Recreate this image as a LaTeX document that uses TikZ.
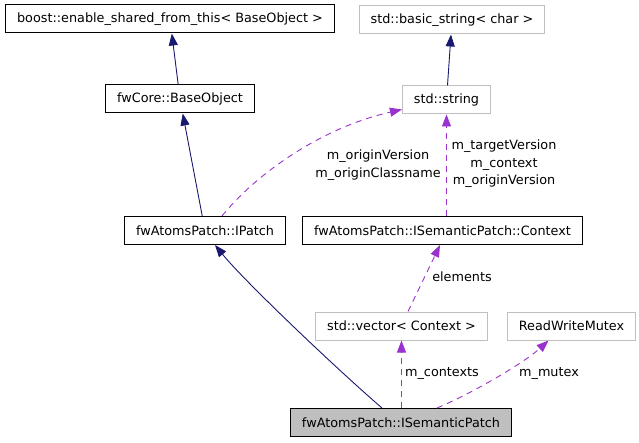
\documentclass[tikz,border=0pt]{standalone}
\usepackage{fontspec}
\setmainfont{DejaVu Sans}
\usepackage{tikz}
\usetikzlibrary{arrows.meta}
\definecolor{edgeblue}{HTML}{191970}
\definecolor{edgepurple}{HTML}{9A32CD}
\definecolor{boxgray}{HTML}{BFBFBF}
\tikzset{
  box/.style={draw=black, line width=1pt, fill=white, align=center, minimum height=28pt, inner xsep=11.5pt, inner ysep=0pt, font=\fontsize{12.8}{17.5}\selectfont},
  ext/.style={box, draw=boxgray},
  cur/.style={box, fill=boxgray},
  inh/.style={-{Triangle[length=12pt,width=9pt]}, edgeblue, line width=0.9pt},
  dep/.style={-{Triangle[length=12pt,width=9pt]}, edgepurple, line width=0.9pt, dash pattern=on 6pt off 5pt},
}
\begin{document}
\begin{tikzpicture}[x=1pt, y=-1pt, lbl/.style={align=center, inner sep=0pt, font=\fontsize{12.8}{17.5}\selectfont}]
\useasboundingbox (0,0) rectangle (639,443);
% classes
\node[box] (boost) at (170,19) {boost::enable\_shared\_from\_this< BaseObject >};
\node[box] (base) at (180,99) {fwCore::BaseObject};
\node[ext] (bstr) at (452,20) {std::basic\_string< char >};
\node[ext] (str) at (446.5,100) {std::string};
\node[box] (ipatch) at (205,230.5) {fwAtomsPatch::IPatch};
\node[box] (ctx) at (442.5,230.5) {fwAtomsPatch::ISemanticPatch::Context};
\node[ext] (vec) at (401.5,326) {std::vector< Context >};
\node[ext] (mutex) at (571.5,326) {ReadWriteMutex};
\node[cur] (isp) at (401,422.5) {fwAtomsPatch::ISemanticPatch};
% inheritance
\draw[inh] (base) -- (boost);
\draw[inh] (str) -- (bstr);
\draw[inh] (ipatch) -- (base);
\draw[inh] ([xshift=-19pt]isp.north) .. controls (340,372) and (245,282) .. ([xshift=10pt]ipatch.south);
% members
\draw[dep] ([xshift=17pt]ipatch.north) .. controls (255,175) and (320,128) .. ([yshift=5pt]str.south west);
\node[lbl] (lorig) at (378,165) {m\_originVersion\\m\_originClassname};
\draw[dep] (str.south |- ctx.north) -- (str.south);
\node[lbl] (lctx) at (504,164) {m\_targetVersion\\m\_context\\m\_originVersion};
\draw[dep] ([xshift=6.5pt]vec.north) -- ([xshift=-2.5pt]ctx.south);
\node[lbl] (lelem) at (462,277) {elements};
\draw[dep] (isp.north -| vec.south) -- (vec.south);
\node[lbl] (lcont) at (442,374) {m\_contexts};
\draw[dep] ([xshift=36pt]isp.north) .. controls (475,392) and (525,362) .. ([xshift=-23pt]mutex.south);
\node[lbl] (lmut) at (549,374) {m\_mutex};
\end{tikzpicture}
\end{document}
